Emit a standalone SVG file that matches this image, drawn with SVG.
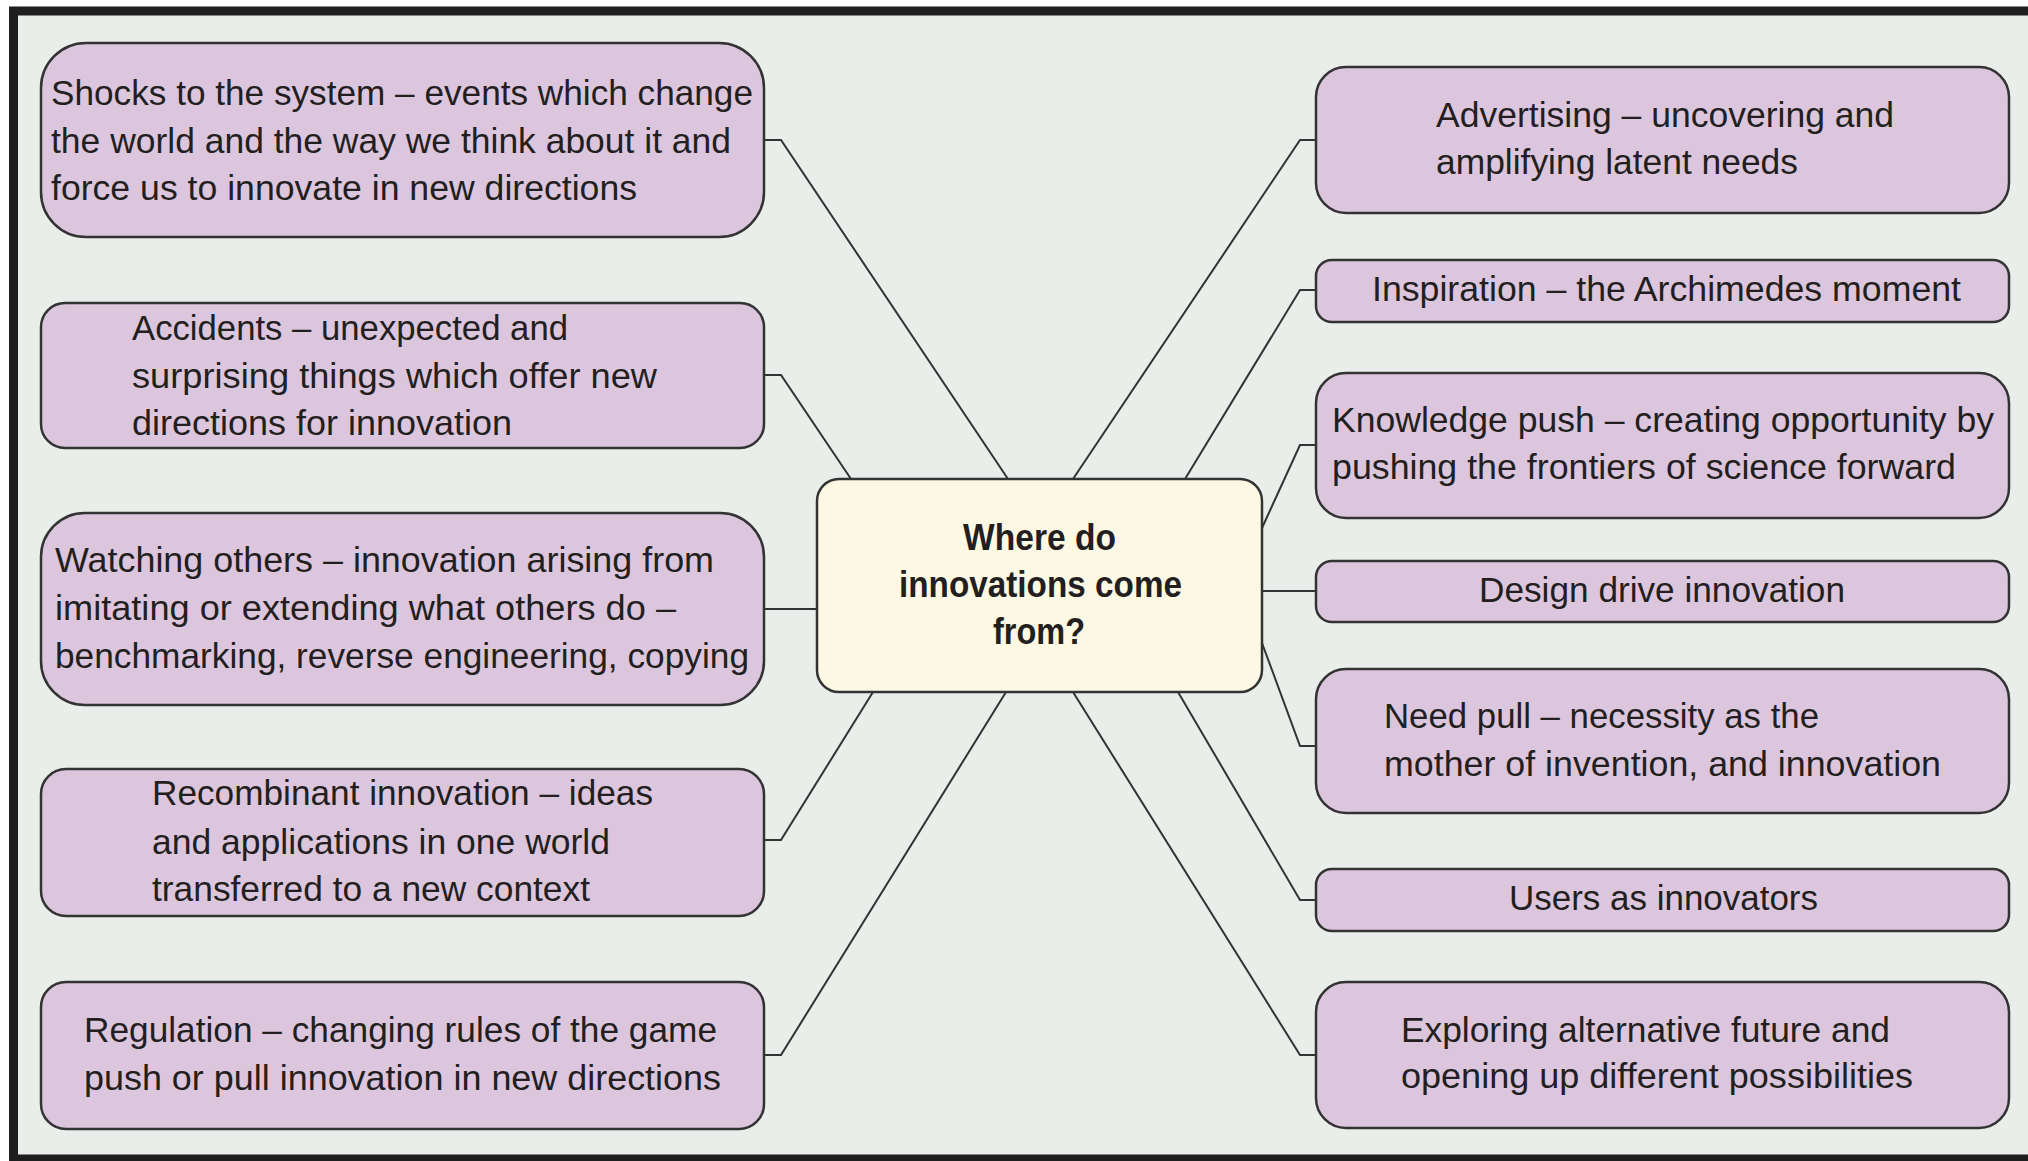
<svg xmlns="http://www.w3.org/2000/svg" width="2028" height="1161" viewBox="0 0 2028 1161">
<style>
.box{fill:#dcc6de;stroke:#333;stroke-width:2.5}
.hub{fill:#fcf8e3;stroke:#333;stroke-width:2.5}
.t{font-family:"Liberation Sans Narrow","Liberation Sans",Arial,sans-serif;font-size:34.5px;fill:#231f20}
.h{font-family:"Liberation Sans Narrow","Liberation Sans",Arial,sans-serif;font-size:37px;font-weight:bold;fill:#231f20}
.c{fill:none;stroke:#333;stroke-width:2}
</style>
<rect x="0" y="0" width="2028" height="1161" fill="#ffffff"/>
<rect x="13.5" y="11" width="2100" height="1148" fill="#e9eeea" stroke="#1e1e1e" stroke-width="9"/>
<g id="connectors">
<polyline class="c" points="764,140 781,140 1008,479"/>
<polyline class="c" points="764,375 781,375 851,479"/>
<polyline class="c" points="764,609 817,609"/>
<polyline class="c" points="764,840 781,840 873,692"/>
<polyline class="c" points="764,1055 781,1055 1006,692"/>
<polyline class="c" points="1316,140 1300,140 1073,479"/>
<polyline class="c" points="1316,290 1300,290 1185,479"/>
<polyline class="c" points="1316,445 1300,445 1262,528"/>
<polyline class="c" points="1262,591 1316,591"/>
<polyline class="c" points="1316,746 1300,746 1262,643"/>
<polyline class="c" points="1316,900 1300,900 1178,692"/>
<polyline class="c" points="1316,1055 1300,1055 1073,692"/>
</g>
<g id="hub">
<rect class="hub" x="817" y="479" width="445" height="213" rx="22"/>
<text class="h" x="963" y="550" textLength="153" lengthAdjust="spacingAndGlyphs">Where do</text>
<text class="h" x="899" y="597" textLength="283" lengthAdjust="spacingAndGlyphs">innovations come</text>
<text class="h" x="993" y="644" textLength="92" lengthAdjust="spacingAndGlyphs">from?</text>
</g>
<g id="shocks">
<rect class="box" x="41" y="43" width="723" height="194" rx="45"/>
<text class="t" x="51" y="105" textLength="702" lengthAdjust="spacingAndGlyphs">Shocks to the system – events which change</text>
<text class="t" x="51" y="153" textLength="680" lengthAdjust="spacingAndGlyphs">the world and the way we think about it and</text>
<text class="t" x="51" y="200" textLength="586" lengthAdjust="spacingAndGlyphs">force us to innovate in new directions</text>
</g>
<g id="accidents">
<rect class="box" x="41" y="303" width="723" height="145" rx="24"/>
<text class="t" x="132" y="340" textLength="436" lengthAdjust="spacingAndGlyphs">Accidents – unexpected and</text>
<text class="t" x="132" y="388" textLength="525" lengthAdjust="spacingAndGlyphs">surprising things which offer new</text>
<text class="t" x="132" y="435" textLength="380" lengthAdjust="spacingAndGlyphs">directions for innovation</text>
</g>
<g id="watching">
<rect class="box" x="41" y="513" width="723" height="192" rx="44"/>
<text class="t" x="55" y="572" textLength="659" lengthAdjust="spacingAndGlyphs">Watching others – innovation arising from</text>
<text class="t" x="55" y="620" textLength="621" lengthAdjust="spacingAndGlyphs">imitating or extending what others do –</text>
<text class="t" x="55" y="668" textLength="694" lengthAdjust="spacingAndGlyphs">benchmarking, reverse engineering, copying</text>
</g>
<g id="recombinant">
<rect class="box" x="41" y="769" width="723" height="147" rx="25"/>
<text class="t" x="152" y="805" textLength="501" lengthAdjust="spacingAndGlyphs">Recombinant innovation – ideas</text>
<text class="t" x="152" y="854" textLength="458" lengthAdjust="spacingAndGlyphs">and applications in one world</text>
<text class="t" x="152" y="901" textLength="438" lengthAdjust="spacingAndGlyphs">transferred to a new context</text>
</g>
<g id="regulation">
<rect class="box" x="41" y="982" width="723" height="147" rx="25"/>
<text class="t" x="84" y="1042" textLength="633" lengthAdjust="spacingAndGlyphs">Regulation – changing rules of the game</text>
<text class="t" x="84" y="1090" textLength="637" lengthAdjust="spacingAndGlyphs">push or pull innovation in new directions</text>
</g>
<g id="advertising">
<rect class="box" x="1316" y="67" width="693" height="146" rx="30"/>
<text class="t" x="1436" y="127" textLength="458" lengthAdjust="spacingAndGlyphs">Advertising – uncovering and</text>
<text class="t" x="1436" y="174" textLength="362" lengthAdjust="spacingAndGlyphs">amplifying latent needs</text>
</g>
<g id="inspiration">
<rect class="box" x="1316" y="260" width="693" height="62" rx="16"/>
<text class="t" x="1372" y="301" textLength="589" lengthAdjust="spacingAndGlyphs">Inspiration – the Archimedes moment</text>
</g>
<g id="knowledge">
<rect class="box" x="1316" y="373" width="693" height="145" rx="30"/>
<text class="t" x="1332" y="432" textLength="662" lengthAdjust="spacingAndGlyphs">Knowledge push – creating opportunity by</text>
<text class="t" x="1332" y="479" textLength="624" lengthAdjust="spacingAndGlyphs">pushing the frontiers of science forward</text>
</g>
<g id="design">
<rect class="box" x="1316" y="561" width="693" height="61" rx="16"/>
<text class="t" x="1479" y="602" textLength="366" lengthAdjust="spacingAndGlyphs">Design drive innovation</text>
</g>
<g id="needpull">
<rect class="box" x="1316" y="669" width="693" height="144" rx="30"/>
<text class="t" x="1384" y="728" textLength="435" lengthAdjust="spacingAndGlyphs">Need pull – necessity as the</text>
<text class="t" x="1384" y="776" textLength="557" lengthAdjust="spacingAndGlyphs">mother of invention, and innovation</text>
</g>
<g id="users">
<rect class="box" x="1316" y="869" width="693" height="62" rx="16"/>
<text class="t" x="1509" y="910" textLength="309" lengthAdjust="spacingAndGlyphs">Users as innovators</text>
</g>
<g id="exploring">
<rect class="box" x="1316" y="982" width="693" height="146" rx="30"/>
<text class="t" x="1401" y="1042" textLength="489" lengthAdjust="spacingAndGlyphs">Exploring alternative future and</text>
<text class="t" x="1401" y="1088" textLength="512" lengthAdjust="spacingAndGlyphs">opening up different possibilities</text>
</g>
</svg>
